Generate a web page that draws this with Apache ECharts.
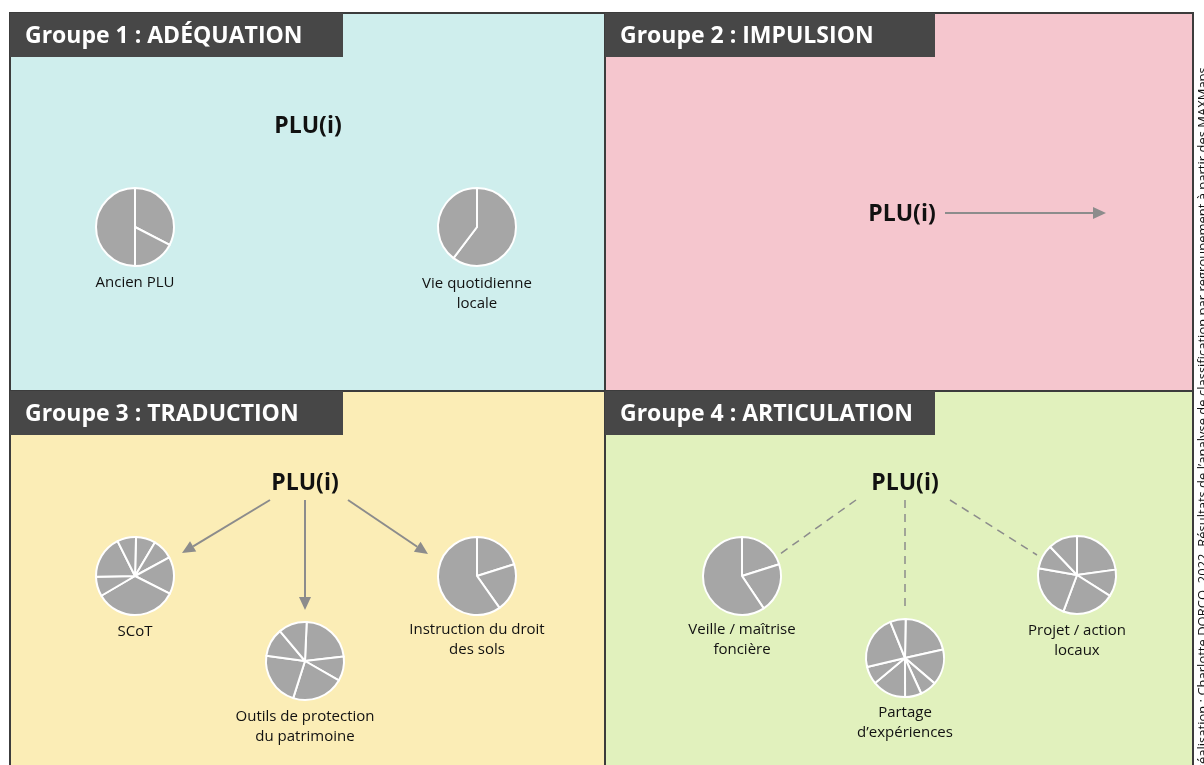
<!DOCTYPE html>
<html>
<head>
<meta charset="utf-8">
<script src="https://cdn.jsdelivr.net/npm/echarts@6/dist/echarts.min.js"></script>
<style>
  html, body { margin: 0; padding: 0; background: #fff; }
  #main { width: 1204px; height: 765px; }
</style>
</head>
<body>
<div id="main"></div>
<script>
// --- data ---
var groupTitles = ['Groupe 1 : ADÉQUATION', 'Groupe 2 : IMPULSION', 'Groupe 3 : TRADUCTION', 'Groupe 4 : ARTICULATION'];
var centreLabel = 'PLU(i)';
var pieNames = [
  'Ancien PLU',
  'Vie quotidienne\nlocale',
  'SCoT',
  'Outils de protection\ndu patrimoine',
  'Instruction du droit\ndes sols',
  'Veille / maîtrise\nfoncière',
  'Partage\nd\u2019expériences',
  'Projet / action\nlocaux'
];
// slice shares (%), clockwise from the first divider
var ancienPlu = [32.6, 17.4, 50];
var vieQuotidienne = [60.3, 39.7];
var scot = [8.1, 8.6, 15.4, 34.1, 8.2, 17.9, 7.8];
var outils = [22.5, 10.1, 21.6, 22.3, 11.7, 11.8];
var instruction = [20.1, 20.1, 59.8];
var veille = [20.1, 20.5, 59.4];
var partage = [21.2, 14.8, 6.9, 6.8, 13.9, 7.4, 22.6, 6.4];
var projet = [22.8, 11.2, 21.7, 22.1, 10.1, 12.1];
var pieValues = [ancienPlu, vieQuotidienne, scot, outils, instruction, veille, partage, projet];
var credit = 'Réalisation : Charlotte DORCO, 2022. Résultats de l\u2019analyse de classification par regroupement à partir des MAXMaps';

// --- layout ---
var FONT = '"Open Sans", "Noto Sans", sans-serif';
var panels = [
  { x: 10, y: 13, w: 595, h: 378, color: '#cfeeed', headW: 333 },
  { x: 605, y: 13, w: 588, h: 378, color: '#f5c6ce', headW: 330 },
  { x: 10, y: 391, w: 595, h: 380, color: '#fbedb6', headW: 333 },
  { x: 605, y: 391, w: 588, h: 380, color: '#e1f1bd', headW: 330 }
];
var pluPos = [[308, 126], [902, 214], [305, 483], [905, 483]];
var LINE_H = 19.5;
var pieLayout = [
  { c: [135, 227], start: 90, label: 283 },
  { c: [477, 227], start: 90, label: 284 },
  { c: [135, 576], start: 88.5, label: 632 },
  { c: [305, 661], start: 87.5, label: 717 },
  { c: [477, 576], start: 90, label: 630 },
  { c: [742, 576], start: 90, label: 630 },
  { c: [905, 658], start: 89, label: 713 },
  { c: [1077, 575], start: 90, label: 631 }
];
var arrows = [
  { from: [945, 213], to: [1106, 213], dashed: false },
  { from: [270, 500], to: [182, 553], dashed: false },
  { from: [305, 500], to: [305, 610], dashed: false },
  { from: [348, 500], to: [428, 554], dashed: false },
  { from: [856, 500], to: [780, 554], dashed: true },
  { from: [905, 500], to: [905, 612], dashed: true },
  { from: [950, 500], to: [1037, 555], dashed: true }
];

var myChart = echarts.init(document.getElementById('main'), null, { renderer: 'canvas' });

var graphics = [];
panels.forEach(function (p, i) {
  graphics.push({
    type: 'rect', z: 0,
    shape: { x: p.x, y: p.y, width: p.w, height: p.h },
    style: { fill: p.color, stroke: '#3c3c3c', lineWidth: 2 }
  });
  graphics.push({
    type: 'rect', z: 1,
    shape: { x: p.x, y: p.y, width: p.headW, height: 44 },
    style: { fill: '#474747' }
  });
  graphics.push({
    type: 'text', z: 2, x: p.x + 15, y: p.y + 23,
    style: { text: groupTitles[i], fill: '#fff', font: 'bold 23px ' + FONT, verticalAlign: 'middle', align: 'left' }
  });
  graphics.push({
    type: 'text', z: 5, x: pluPos[i][0], y: pluPos[i][1],
    style: { text: centreLabel, fill: '#111', font: 'bold 23px ' + FONT, align: 'center', verticalAlign: 'middle' }
  });
});

arrows.forEach(function (a) {
  var dx = a.to[0] - a.from[0], dy = a.to[1] - a.from[1];
  var len = Math.sqrt(dx * dx + dy * dy);
  var ux = dx / len, uy = dy / len;
  var headL = a.dashed ? 0 : 13, headW = 6;
  var end = [a.to[0] - ux * headL, a.to[1] - uy * headL];
  graphics.push({
    type: 'line', z: 3,
    shape: { x1: a.from[0], y1: a.from[1], x2: end[0], y2: end[1] },
    style: { stroke: '#8c8c8c', lineWidth: a.dashed ? 1.5 : 2, lineDash: a.dashed ? [8, 6] : null }
  });
  if (!a.dashed) {
    graphics.push({
      type: 'polygon', z: 3,
      shape: { points: [a.to, [end[0] - uy * headW, end[1] + ux * headW], [end[0] + uy * headW, end[1] - ux * headW]] },
      style: { fill: '#8c8c8c' }
    });
  }
});

pieLayout.forEach(function (p, i) {
  graphics.push({
    type: 'text', z: 5, x: p.c[0], y: p.label - LINE_H / 2,
    style: { text: pieNames[i], fill: '#111', font: '15px ' + FONT, align: 'center', verticalAlign: 'top', lineHeight: LINE_H }
  });
});

graphics.push({
  type: 'text', z: 5, x: 1203, y: 772, rotation: Math.PI / 2,
  style: { text: credit, fill: '#111', font: '13px ' + FONT, align: 'left', verticalAlign: 'middle' }
});

var series = pieValues.map(function (vals, i) {
  return {
    type: 'pie',
    center: pieLayout[i].c,
    radius: [0, 39],
    startAngle: pieLayout[i].start,
    clockwise: true,
    silent: true,
    animation: false,
    label: { show: false },
    labelLine: { show: false },
    itemStyle: { color: '#a6a6a6', borderColor: '#ffffff', borderWidth: 2 },
    data: vals.map(function (v) { return { value: v }; })
  };
});

myChart.setOption({
  animation: false,
  graphic: graphics,
  series: series
});
</script>
</body>
</html>
